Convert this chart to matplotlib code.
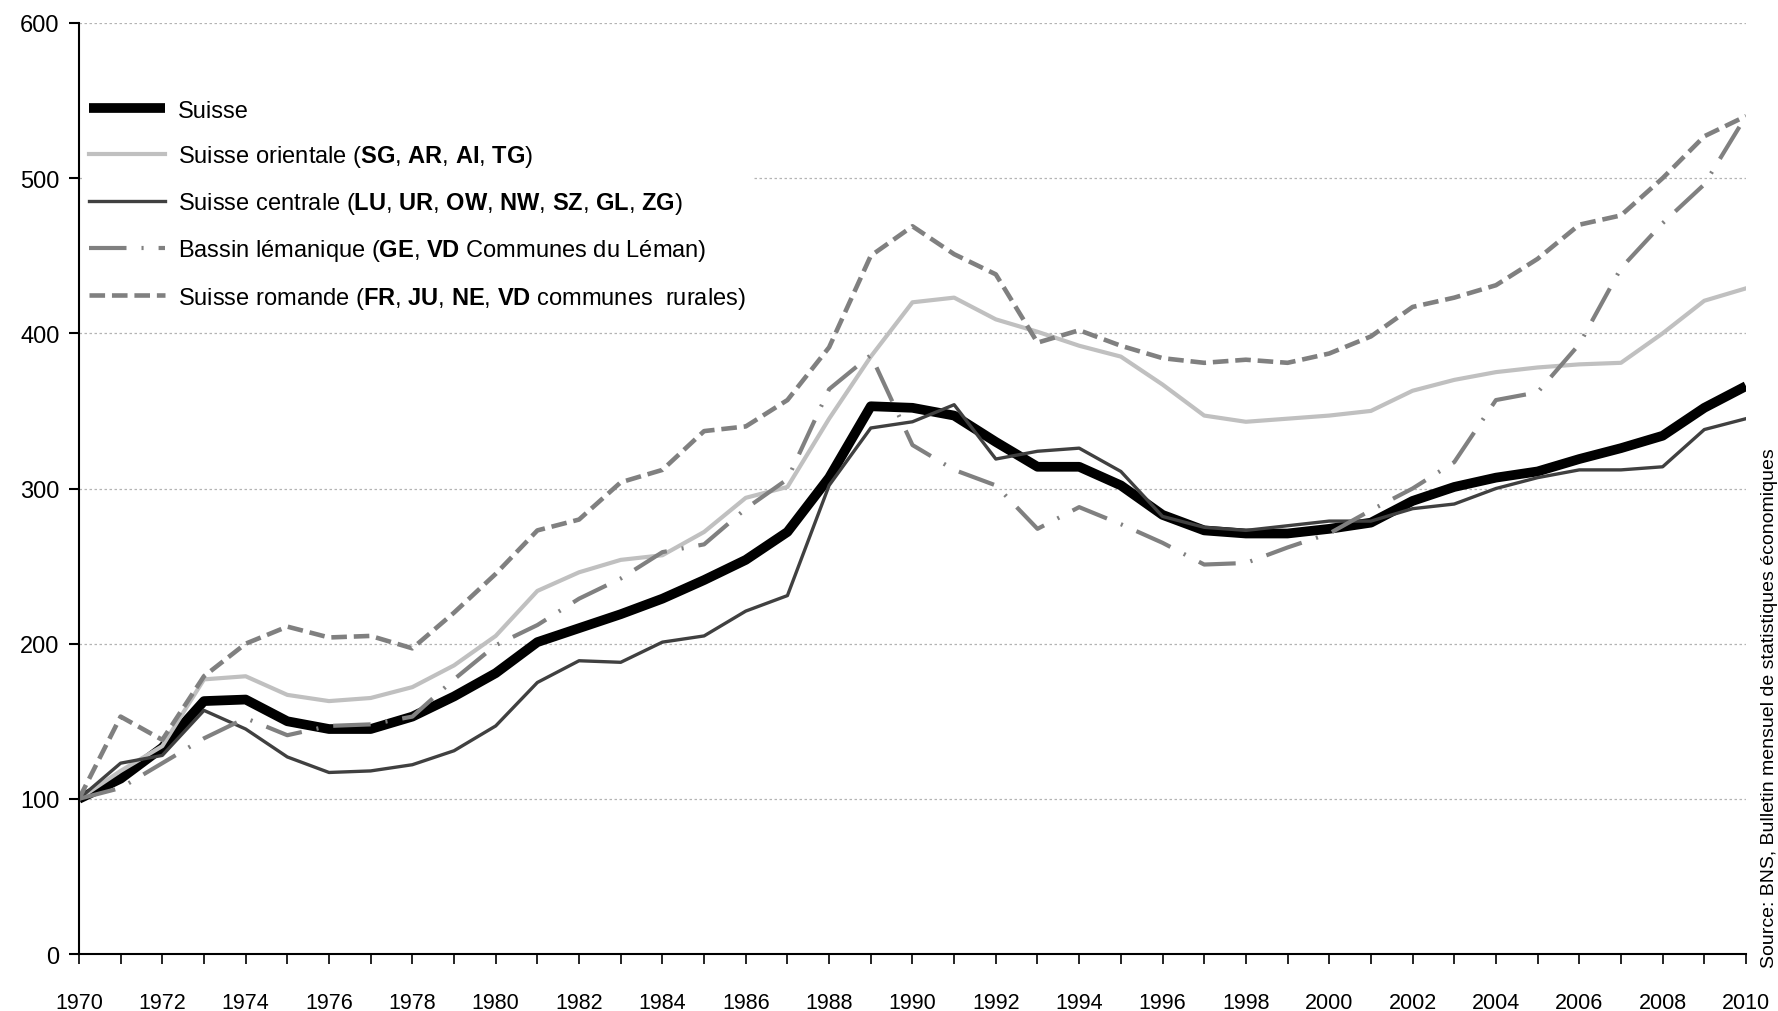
import numpy as np
import matplotlib
matplotlib.use("Agg")
import matplotlib.pyplot as plt
from matplotlib.ticker import MultipleLocator

plt.rcParams['font.family'] = ['Liberation Sans', 'DejaVu Sans']
plt.rcParams['mathtext.fontset'] = 'custom'
plt.rcParams['mathtext.rm'] = 'Liberation Sans'
plt.rcParams['mathtext.bf'] = 'Liberation Sans:bold'

years = np.arange(1970, 2011)

suisse = [100, 113, 133, 163, 164, 150, 145, 145, 153, 166,
          181, 201, 210, 219, 229, 241, 254, 272, 307, 353,
          352, 347, 330, 314, 314, 302, 283, 273, 271, 271,
          274, 278, 292, 301, 307, 311, 319, 326, 334, 352, 366]
orientale = [100, 118, 134, 177, 179, 167, 163, 165, 172, 186,
             205, 234, 246, 254, 257, 272, 294, 301, 345, 385,
             420, 423, 409, 401, 392, 385, 367, 347, 343, 345,
             347, 350, 363, 370, 375, 378, 380, 381, 400, 421, 429]
centrale = [100, 123, 128, 157, 145, 127, 117, 118, 122, 131,
            147, 175, 189, 188, 201, 205, 221, 231, 302, 339,
            343, 354, 319, 324, 326, 311, 282, 275, 273, 276,
            279, 279, 287, 290, 300, 307, 312, 312, 314, 338, 345]
bassin = [100, 107, 123, 139, 152, 141, 147, 148, 153, 177,
          199, 212, 229, 242, 259, 264, 287, 306, 364, 386,
          328, 312, 302, 274, 288, 277, 265, 251, 252, 262,
          271, 286, 300, 317, 357, 362, 393, 442, 471, 496, 540]
romande = [100, 153, 138, 179, 200, 211, 204, 205, 197, 220,
           245, 273, 280, 304, 312, 337, 340, 357, 391, 450,
           469, 451, 438, 394, 402, 392, 384, 381, 383, 381,
           387, 398, 417, 423, 431, 448, 470, 476, 500, 527, 540]

labels = [
    'Suisse',
    r'Suisse orientale ($\mathbf{SG}$, $\mathbf{AR}$, $\mathbf{AI}$, $\mathbf{TG}$)',
    r'Suisse centrale ($\mathbf{LU}$, $\mathbf{UR}$, $\mathbf{OW}$, $\mathbf{NW}$, '
    r'$\mathbf{SZ}$, $\mathbf{GL}$, $\mathbf{ZG}$)',
    r'Bassin lémanique ($\mathbf{GE}$, $\mathbf{VD}$ Communes du Léman)',
    r'Suisse romande ($\mathbf{FR}$, $\mathbf{JU}$, $\mathbf{NE}$, $\mathbf{VD}$ communes  rurales)',
]

fig = plt.figure(figsize=(17.78, 10.12), dpi=100)
ax = fig.add_axes([0.0444, 0.0563, 0.9376, 0.92])

ax.plot(years, suisse, color='black', lw=7, solid_capstyle='butt', label=labels[0])
ax.plot(years, orientale, color='#c0c0c0', lw=3, label=labels[1])
ax.plot(years, centrale, color='#404040', lw=2.4, label=labels[2])
ax.plot(years, bassin, color='#808080', lw=3, dashes=(9, 3.6, 0.5, 3.6), label=labels[3])
ax.plot(years, romande, color='#808080', lw=3.3, dashes=(3.4, 1.5), label=labels[4])

ax.set_xlim(1970, 2010)
ax.set_ylim(0, 600)
ax.yaxis.set_major_locator(MultipleLocator(100))
ax.xaxis.set_major_locator(MultipleLocator(2))
ax.xaxis.set_minor_locator(MultipleLocator(1))
ax.grid(axis='y', color='#b4b4b4', lw=0.9, linestyle=(0, (2, 2)))
ax.set_axisbelow(True)

for s in ['top', 'right']:
    ax.spines[s].set_visible(False)
for s in ['left', 'bottom']:
    ax.spines[s].set_linewidth(1.5)

ax.tick_params(axis='y', direction='out', length=7, width=1.5, pad=7, labelsize=17)
ax.tick_params(axis='x', which='both', direction='out', length=7, width=1.2, pad=20, labelsize=15.5)

leg = ax.legend(loc='upper left', bbox_to_anchor=(-0.005, 0.938), fontsize=17,
                handlelength=3.2, handletextpad=0.55, labelspacing=0.9,
                borderpad=0.3, frameon=True, fancybox=False)
leg.get_frame().set_facecolor('white')
leg.get_frame().set_edgecolor('none')
leg.get_frame().set_alpha(1)

fig.text(0.9905, 0.043, 'Source: BNS, Bulletin mensuel de statistiques économiques',
         rotation=90, ha='left', va='bottom', fontsize=14)

fig.savefig('out.png', dpi=100)
